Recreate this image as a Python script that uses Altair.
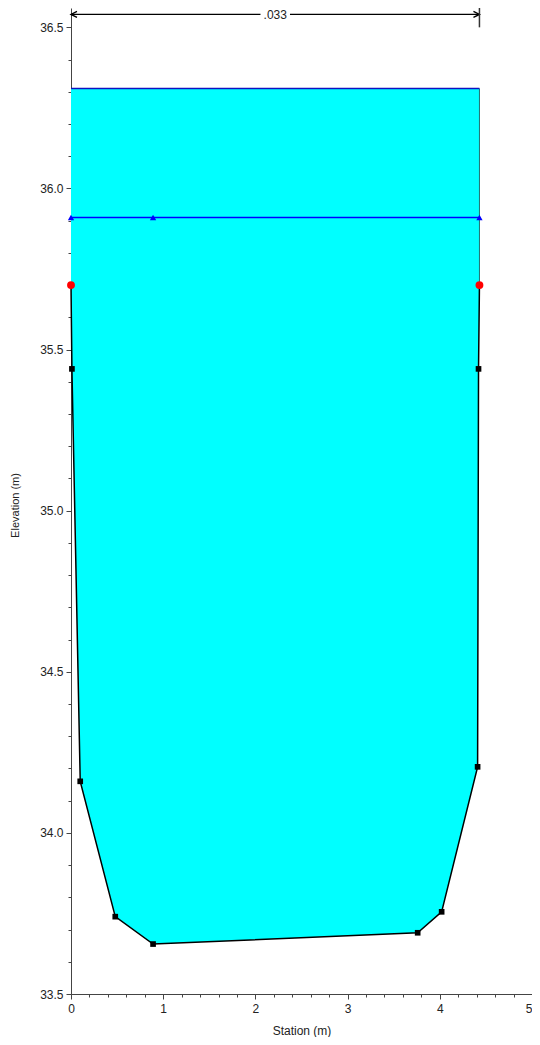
import altair as alt
import pandas as pd

# ---- data ----
station = [0.0, 0.01, 0.10, 0.48, 0.89, 3.76, 4.02, 4.41, 4.42, 4.43]
elevation = [35.70, 35.44, 34.16, 33.74, 33.655, 33.69, 33.755, 34.205, 35.44, 35.70]
bank_station = [0.0, 4.43]
bank_elev = [35.70, 35.70]
ws_elev = 36.31
line2_station = [0.0, 0.89, 4.43]
line2_elev = 35.91
n_label = ".033"
n_elev = 36.54
n_start = 0.0
n_end = 4.43
n_tick_lo = 36.50
n_tick_hi = 36.58

x_major = [0, 1, 2, 3, 4, 5]
x_minor = [0.0, 0.2, 0.4, 0.6, 0.8, 1.0, 1.2, 1.4, 1.6, 1.8, 2.0, 2.2, 2.4, 2.6, 2.8,
           3.0, 3.2, 3.4, 3.6, 3.8, 4.0, 4.2, 4.4, 4.6, 4.8, 5.0]
y_major = [33.5, 34.0, 34.5, 35.0, 35.5, 36.0, 36.5]
y_minor = [33.5, 33.6, 33.7, 33.8, 33.9, 34.0, 34.1, 34.2, 34.3, 34.4, 34.5, 34.6,
           34.7, 34.8, 34.9, 35.0, 35.1, 35.2, 35.3, 35.4, 35.5, 35.6, 35.7, 35.8,
           35.9, 36.0, 36.1, 36.2, 36.3, 36.4, 36.5]

FONT = "Liberation Sans"
AX = "#444444"
PLOT_W = 461
PLOT_H = 986

ground = pd.DataFrame({"station": station, "elevation": elevation,
                       "ws": [ws_elev] * len(station), "i": list(range(len(station)))})
pts = ground.iloc[1:-1]
banks = pd.DataFrame({"station": bank_station, "elevation": bank_elev})
wall = pd.DataFrame({"station": [bank_station[1]], "lo": [bank_elev[1]], "hi": [ws_elev]})
wsline = pd.DataFrame({"a": [bank_station[0]], "b": [bank_station[1]], "y": [ws_elev]})
l2 = pd.DataFrame({"station": line2_station, "elevation": [line2_elev] * len(line2_station)})
l2seg = pd.DataFrame({"a": [min(line2_station)], "b": [max(line2_station)], "y": [line2_elev]})
mid = (n_start + n_end) / 2
gap = 0.16
nseg = pd.DataFrame({"a": [n_start, mid + gap], "b": [mid - gap, n_end], "y": [n_elev, n_elev]})
nheads = pd.DataFrame({"station": [n_start, n_end], "y": [n_elev, n_elev], "dir": ["L", "R"]})
ntick = pd.DataFrame({"station": [n_end], "lo": [n_tick_lo], "hi": [n_tick_hi]})
ntext = pd.DataFrame({"station": [mid], "y": [n_elev], "t": [n_label]})

xs = alt.Scale(domain=[0, 5], nice=False, zero=False)
ys = alt.Scale(domain=[33.5, 36.56], nice=False, zero=False)

common_axis = dict(grid=False, domainColor=AX, tickColor=AX, labelColor="#222222",
                   titleColor="#222222", labelFont=FONT, titleFont=FONT,
                   titleFontWeight="normal", domainWidth=1, tickWidth=1)

major_x = alt.Axis(values=x_major, format="d", title="Station (m)", orient="bottom",
                   tickSize=5, labelPadding=4, labelFontSize=12, titleFontSize=12,
                   titlePadding=11, labelFlush=False, labelOverlap=False,
                   labelAlign={"condition": {"test": "datum.value >= 5", "value": "right"},
                               "value": "center"},
                   **common_axis)
major_y = alt.Axis(values=y_major, format=".1f", title="Elevation (m)", orient="left",
                   tickSize=5, labelPadding=3, labelFontSize=12, titleFontSize=11,
                   titlePadding=19, titleY=497, labelFlush=False, labelOverlap=False,
                   **common_axis)
minor_x = alt.Axis(values=x_minor, labels=False, title=None, orient="bottom",
                   tickSize=3, domain=False, **common_axis)
minor_y = alt.Axis(values=y_minor, labels=False, title=None, orient="left",
                   tickSize=3, domain=False, **common_axis)

area = alt.Chart(ground).mark_area(color="#00ffff", opacity=1).encode(
    x=alt.X("station:Q", scale=xs, axis=major_x),
    y=alt.Y("elevation:Q", scale=ys, axis=major_y),
    y2="ws:Q",
)

wall_rule = alt.Chart(wall).mark_rule(color="#1f7070", strokeWidth=1).encode(
    x=alt.X("station:Q", scale=xs, axis=None),
    y=alt.Y("lo:Q", scale=ys, axis=None), y2="hi:Q")

ws_rule = alt.Chart(wsline).mark_rule(color="#1010c0", strokeWidth=1.6).encode(
    x=alt.X("a:Q", scale=xs, axis=None), x2="b:Q",
    y=alt.Y("y:Q", scale=ys, axis=None))

l2_rule = alt.Chart(l2seg).mark_rule(color="#0000ff", strokeWidth=1.5).encode(
    x=alt.X("a:Q", scale=xs, axis=None), x2="b:Q",
    y=alt.Y("y:Q", scale=ys, axis=None))

l2_pts = alt.Chart(l2).mark_point(shape="triangle-up", filled=True, color="#0000ff",
                                  size=40, opacity=1).encode(
    x=alt.X("station:Q", scale=xs, axis=None),
    y=alt.Y("elevation:Q", scale=ys, axis=None))

ground_line = alt.Chart(ground).mark_line(color="black", strokeWidth=1.5).encode(
    x=alt.X("station:Q", scale=xs, axis=minor_x),
    y=alt.Y("elevation:Q", scale=ys, axis=minor_y),
    order="i:Q")

squares = alt.Chart(pts).mark_square(color="black", size=32, opacity=1).encode(
    x=alt.X("station:Q", scale=xs, axis=None),
    y=alt.Y("elevation:Q", scale=ys, axis=None))

bank_pts = alt.Chart(banks).mark_circle(color="#ff0000", size=62, opacity=1).encode(
    x=alt.X("station:Q", scale=xs, axis=None),
    y=alt.Y("elevation:Q", scale=ys, axis=None))

n_rules = alt.Chart(nseg).mark_rule(color="black", strokeWidth=1.3).encode(
    x=alt.X("a:Q", scale=xs, axis=None), x2="b:Q",
    y=alt.Y("y:Q", scale=ys, axis=None))

left_path = "M1,-0.5L0,0L1,0.5"
right_path = "M-1,-0.5L0,0L-1,0.5"
n_heads = alt.Chart(nheads).mark_point(filled=False, color="black", strokeWidth=1.4,
                                       size=144, opacity=1).encode(
    x=alt.X("station:Q", scale=xs, axis=None),
    y=alt.Y("y:Q", scale=ys, axis=None),
    shape=alt.Shape("dir:N", scale=alt.Scale(domain=["L", "R"], range=[left_path, right_path]),
                    legend=None))

n_tick_rule = alt.Chart(ntick).mark_rule(color="#333333", strokeWidth=1.5).encode(
    x=alt.X("station:Q", scale=xs, axis=None),
    y=alt.Y("lo:Q", scale=ys, axis=None), y2="hi:Q")

n_txt = alt.Chart(ntext).mark_text(font=FONT, fontSize=12, color="#222222",
                                   align="center", baseline="middle", dy=1).encode(
    x=alt.X("station:Q", scale=xs, axis=None),
    y=alt.Y("y:Q", scale=ys, axis=None),
    text="t:N")

chart = alt.layer(
    area, wall_rule, ws_rule, l2_rule, l2_pts, ground_line, squares, bank_pts,
    n_rules, n_heads, n_tick_rule, n_txt
).resolve_axis(x="independent", y="independent").properties(
    width=PLOT_W, height=PLOT_H,
    autosize=alt.AutoSizeParams(type="none"),
    padding={"left": 63, "top": 0, "right": 0, "bottom": 43},
    background="white",
).configure_view(stroke=None)

chart.save("out.html", embed_options={"renderer": "svg", "actions": False})
